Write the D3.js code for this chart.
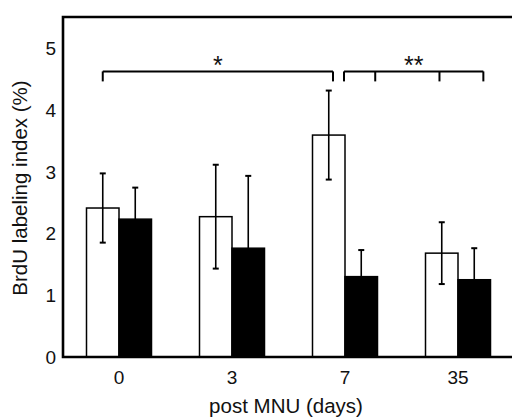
<!DOCTYPE html>
<html>
<head>
<meta charset="utf-8">
<script src="https://cdn.jsdelivr.net/npm/d3@7"></script>
<style>
  body { margin: 0; background: #fff; }
  text { font-family: "Liberation Sans", Arial, sans-serif; fill: #111; }
</style>
</head>
<body>
<div id="container"></div>
<script>
// data
const days = ["0", "3", "7", "35"];
const openMeans = [2.41, 2.27, 3.59, 1.68];
const openErr = [0.56, 0.84, 0.72, 0.50];
const filledMeans = [2.23, 1.76, 1.30, 1.25];
const filledErr = [0.51, 1.17, 0.43, 0.51];
const yTicks = [0, 1, 2, 3, 4, 5];

// significance brackets: [day, offset in bar widths from day centre]
const bracketStar1 = [["0", -0.5], ["7", -0.37]];
const bracketStar2 = [["7", -0.03], ["7", 0.93], ["35", -0.57], ["35", 0.78]];
const bracketLevel = 4.62;

const width = 512, height = 420;
const plotLeft = 63, plotTop = 17, plotBottom = 357;
const barW = 32.5;

const svg = d3.select("#container").append("svg")
  .attr("width", width).attr("height", height);

const x = d3.scalePoint().domain(days).range([119, 458]);
const sub = d3.scaleBand().domain(["open", "filled"]).range([-barW, barW]);
const y = d3.scaleLinear().domain([0, 5.5]).range([plotBottom, plotTop]);

const rows = days.map((d, i) => [
  { day: d, group: "open", v: openMeans[i], e: openErr[i] },
  { day: d, group: "filled", v: filledMeans[i], e: filledErr[i] }
]).flat();

// bars
svg.selectAll("rect.bar")
  .data(rows)
  .join("rect")
  .attr("class", "bar")
  .attr("x", d => x(d.day) + sub(d.group))
  .attr("y", d => y(d.v))
  .attr("width", sub.bandwidth())
  .attr("height", d => y(0) - y(d.v))
  .attr("fill", d => d.group === "open" ? "#fff" : "#000")
  .attr("stroke", "#000")
  .attr("stroke-width", 1.5);

// error bars
const eb = svg.selectAll("g.err")
  .data(rows)
  .join("g")
  .attr("class", "err")
  .attr("transform", d => `translate(${x(d.day) + sub(d.group) + sub.bandwidth() / 2},0)`)
  .attr("stroke", "#000");

eb.append("line")
  .attr("y1", d => y(d.v - d.e)).attr("y2", d => y(d.v + d.e))
  .attr("stroke-width", 1.6);
eb.append("line")
  .attr("x1", -3).attr("x2", 3)
  .attr("y1", d => y(d.v + d.e)).attr("y2", d => y(d.v + d.e))
  .attr("stroke-width", 2);
eb.append("line")
  .attr("x1", -3).attr("x2", 3)
  .attr("y1", d => y(d.v - d.e)).attr("y2", d => y(d.v - d.e))
  .attr("stroke-width", 2);

// frame / axes (open on the right)
svg.append("path")
  .attr("d", `M${width + 5},${plotTop}H${plotLeft}V${plotBottom}H${width + 5}`)
  .attr("fill", "none")
  .attr("stroke", "#000")
  .attr("stroke-width", 2.6);

// y tick labels
svg.selectAll("text.ytick")
  .data(yTicks)
  .join("text")
  .attr("class", "ytick")
  .attr("x", 56)
  .attr("y", d => y(d) + 7)
  .attr("text-anchor", "end")
  .style("font-size", "19px")
  .text(d => d);

// x tick labels
svg.selectAll("text.xtick")
  .data(days)
  .join("text")
  .attr("class", "xtick")
  .attr("x", d => x(d))
  .attr("y", 384)
  .attr("text-anchor", "middle")
  .style("font-size", "19px")
  .text(d => d);

// axis titles
svg.append("text")
  .attr("x", 286).attr("y", 413)
  .attr("text-anchor", "middle")
  .style("font-size", "20.5px")
  .text("post MNU (days)");

svg.append("text")
  .attr("transform", "translate(27,188) rotate(-90)")
  .attr("text-anchor", "middle")
  .style("font-size", "20.5px")
  .text("BrdU labeling index (%)");

// significance brackets
function bracket(pts, label) {
  const xs = pts.map(p => x(p[0]) + p[1] * barW);
  const yb = y(bracketLevel);
  const g = svg.append("g").attr("stroke", "#000").attr("fill", "none");
  g.append("line")
    .attr("x1", xs[0]).attr("x2", xs[xs.length - 1])
    .attr("y1", yb).attr("y2", yb)
    .attr("stroke-width", 2);
  g.selectAll("line.tk")
    .data(xs)
    .join("line")
    .attr("class", "tk")
    .attr("x1", d => d).attr("x2", d => d)
    .attr("y1", yb).attr("y2", yb + 10)
    .attr("stroke-width", 2);
  svg.append("text")
    .attr("x", (xs[0] + xs[xs.length - 1]) / 2)
    .attr("y", yb + 3)
    .attr("text-anchor", "middle")
    .style("font-size", "25px")
    .text(label);
}
bracket(bracketStar1, "*");
bracket(bracketStar2, "**");
</script>
</body>
</html>
